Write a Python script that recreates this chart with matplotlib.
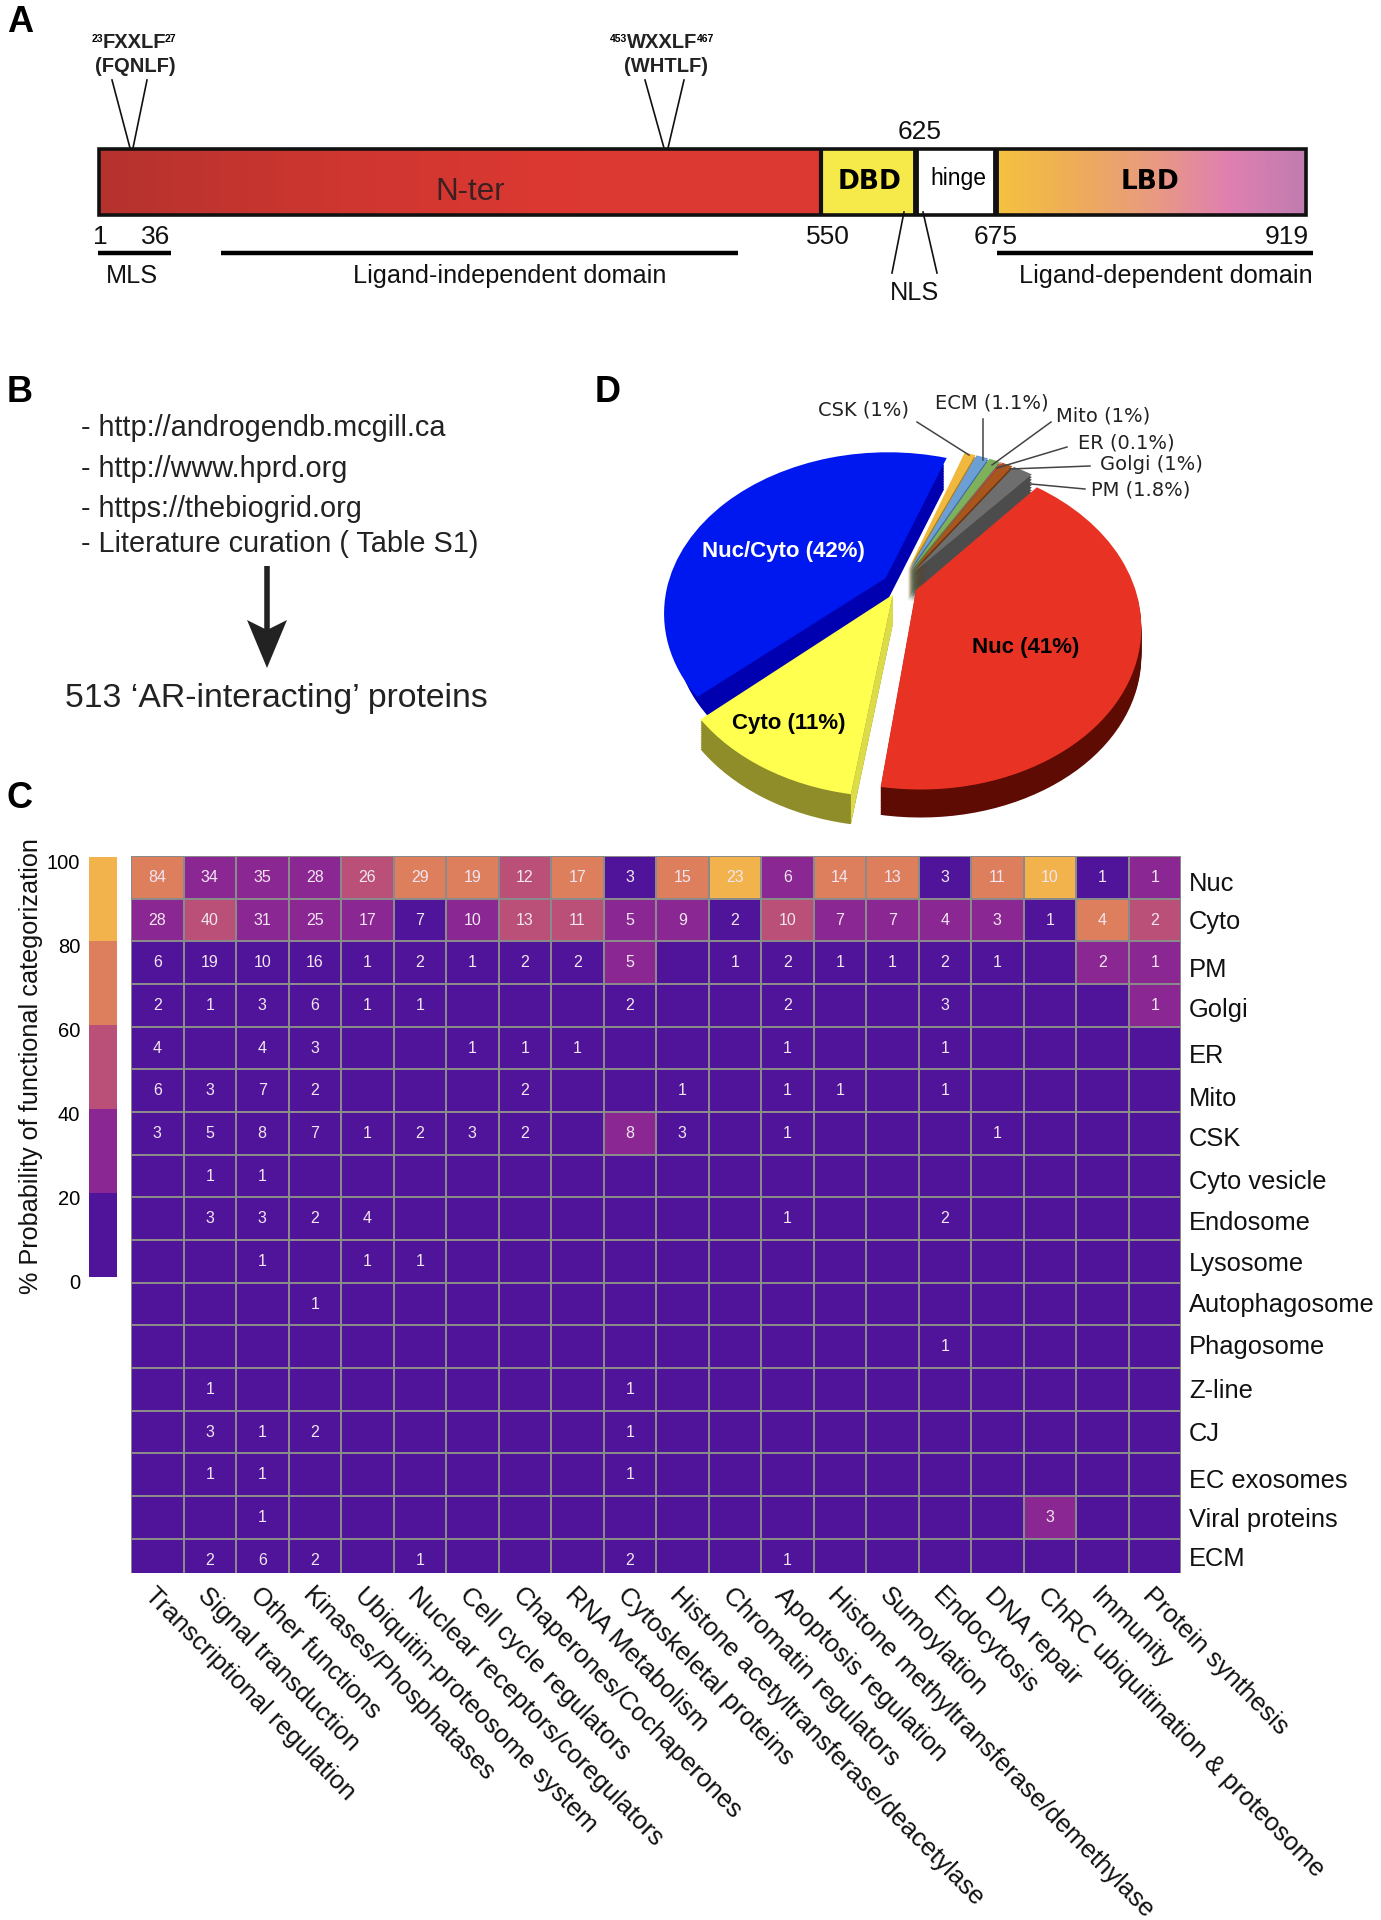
import numpy as np
import matplotlib
matplotlib.use('Agg')
import matplotlib.pyplot as plt
from matplotlib.colors import ListedColormap, LinearSegmentedColormap
from matplotlib.patches import Rectangle, Polygon
from matplotlib.transforms import Transform, Affine2D, ScaledTranslation

plt.rcParams['font.family'] = ['Liberation Sans', 'DejaVu Sans']

W, H = 1381, 1920

# heatmap data, 0 = empty cell
columns = ['Transcriptional regulation', 'Signal transduction', 'Other functions',
           'Kinases/Phosphatases', 'Ubiquitin-proteosome system',
           'Nuclear receptors/coregulators', 'Cell cycle regulators',
           'Chaperones/Cochaperones', 'RNA Metabolism', 'Cytoskeletal proteins',
           'Histone acetyltransferase/deacetylase', 'Chromatin regulators',
           'Apoptosis regulation', 'Histone methyltransferase/demethylase',
           'Sumoylation', 'Endocytosis', 'DNA repair',
           'ChRC ubiquitination & proteosome', 'Immunity', 'Protein synthesis']
rows = ['Nuc', 'Cyto', 'PM', 'Golgi', 'ER', 'Mito', 'CSK', 'Cyto vesicle', 'Endosome',
        'Lysosome', 'Autophagosome', 'Phagosome', 'Z-line', 'CJ', 'EC exosomes',
        'Viral proteins', 'ECM']
counts = [
    [84, 34, 35, 28, 26, 29, 19, 12, 17, 3, 15, 23, 6, 14, 13, 3, 11, 10, 1, 1],
    [28, 40, 31, 25, 17, 7, 10, 13, 11, 5, 9, 2, 10, 7, 7, 4, 3, 1, 4, 2],
    [6, 19, 10, 16, 1, 2, 1, 2, 2, 5, 0, 1, 2, 1, 1, 2, 1, 0, 2, 1],
    [2, 1, 3, 6, 1, 1, 0, 0, 0, 2, 0, 0, 2, 0, 0, 3, 0, 0, 0, 1],
    [4, 0, 4, 3, 0, 0, 1, 1, 1, 0, 0, 0, 1, 0, 0, 1, 0, 0, 0, 0],
    [6, 3, 7, 2, 0, 0, 0, 2, 0, 0, 1, 0, 1, 1, 0, 1, 0, 0, 0, 0],
    [3, 5, 8, 7, 1, 2, 3, 2, 0, 8, 3, 0, 1, 0, 0, 0, 1, 0, 0, 0],
    [0, 1, 1, 0, 0, 0, 0, 0, 0, 0, 0, 0, 0, 0, 0, 0, 0, 0, 0, 0],
    [0, 3, 3, 2, 4, 0, 0, 0, 0, 0, 0, 0, 1, 0, 0, 2, 0, 0, 0, 0],
    [0, 0, 1, 0, 1, 1, 0, 0, 0, 0, 0, 0, 0, 0, 0, 0, 0, 0, 0, 0],
    [0, 0, 0, 1, 0, 0, 0, 0, 0, 0, 0, 0, 0, 0, 0, 0, 0, 0, 0, 0],
    [0, 0, 0, 0, 0, 0, 0, 0, 0, 0, 0, 0, 0, 0, 0, 1, 0, 0, 0, 0],
    [0, 1, 0, 0, 0, 0, 0, 0, 0, 1, 0, 0, 0, 0, 0, 0, 0, 0, 0, 0],
    [0, 3, 1, 2, 0, 0, 0, 0, 0, 1, 0, 0, 0, 0, 0, 0, 0, 0, 0, 0],
    [0, 1, 1, 0, 0, 0, 0, 0, 0, 1, 0, 0, 0, 0, 0, 0, 0, 0, 0, 0],
    [0, 0, 1, 0, 0, 0, 0, 0, 0, 0, 0, 0, 0, 0, 0, 0, 0, 3, 0, 0],
    [0, 2, 6, 2, 0, 1, 0, 0, 0, 2, 0, 0, 1, 0, 0, 0, 0, 0, 0, 0],
]
# colour bin of each cell (0-20, 20-40, ...)
levels_nuc = [3, 1, 1, 1, 2, 3, 3, 2, 3, 0, 3, 4, 1, 3, 3, 0, 3, 4, 0, 1]
levels_cyto = [1, 2, 1, 1, 1, 0, 1, 2, 2, 1, 1, 0, 2, 1, 1, 1, 1, 0, 3, 2]
levels_raised = [(2, 9), (2, 18), (2, 19), (3, 19), (6, 9), (15, 17)]  # (row, col) in bin 1

bin_edges = [0, 20, 40, 60, 80, 100]
bin_colors = ['#50149a', '#8b2792', '#ba4f78', '#dd7e5c', '#f3b34c']

# pie data
pie_names = ['Nuc', 'PM', 'Golgi', 'ER', 'Mito', 'ECM', 'CSK', 'Nuc/Cyto', 'Cyto']
pie_values = [41, 1.8, 1, 0.1, 1, 1.1, 1, 42, 11]
pie_top = ['#e83324', '#6e6e6e', '#a8561e', '#e0406a', '#7fb05c', '#6c9fd6', '#f0b83c',
           '#0018f0', '#ffff50']
pie_side = ['#5e0b03', '#4c4c4c', '#6a3410', '#90203c', '#4f7a36', '#3f6c9e', '#a87c20',
            '#0000b0', '#8f8c2a']
pie_explode = [0.08, 0.10, 0.10, 0.10, 0.10, 0.10, 0.10, 0.08, 0.07]
pie_thick = [28, 42, 30, 30, 30, 30, 30, 26, 30]
pie_rank = [8, 5, 4, 3, 2, 1, 0, 6, 7]

fig = plt.figure(figsize=(W / 100, H / 100), dpi=100)


# perspective of the tilted pie: flat unit circle -> figure pixels
class Tilt(Transform):
    input_dims = 2
    output_dims = 2

    def __init__(self, ox, oy, sx, sy, k):
        super().__init__()
        self.ox, self.oy, self.sx, self.sy, self.k = ox, oy, sx, sy, k

    def transform_non_affine(self, xy):
        xy = np.asarray(xy, dtype=float)
        w = 1 + self.k * xy[:, 1]
        return np.column_stack([self.ox + self.sx * xy[:, 0] / w,
                                self.oy - self.sy * xy[:, 1] / w])


ax_pie = fig.add_axes([0, 0, 1, 1], zorder=1)
tilt = Tilt(900, 585, 218, 155, 0.21)
n_layers = 16
for i in range(n_layers + 1):
    frac = 1 - i / n_layers
    cols = pie_top if i == n_layers else pie_side
    wedges, _ = ax_pie.pie(pie_values, colors=cols, startangle=261.8, explode=pie_explode,
                           radius=1, wedgeprops={'linewidth': 0})
    for j, w in enumerate(wedges):
        w.set_transform(tilt + Affine2D().translate(0, pie_thick[j] * frac) + ax_pie.transData)
        w.set_zorder(pie_rank[j] * 100 + i)
        if j == 7 and i < n_layers:
            w.set_radius(0.95)  # keeps the blue rim only at the lower left

# lighter cut face of the Cyto slice
w = wedges[8]
a = np.deg2rad(w.theta2)
p = tilt.transform(np.array([w.center, (w.center[0] + np.cos(a), w.center[1] + np.sin(a))]))
ax_pie.fill([p[0, 0], p[1, 0], p[1, 0], p[0, 0]],
            [p[0, 1], p[1, 1], p[1, 1] + 30, p[0, 1] + 30], color='#dcdc48', lw=0, zorder=750)

ax_pie.set_aspect('auto')
ax_pie.set_xlim(0, W)
ax_pie.set_ylim(H, 0)
ax_pie.axis('off')

ax_pie.text(783, 552, 'Nuc/Cyto (42%)', color='white', fontsize=16, fontweight='bold',
            ha='center', va='center', zorder=2000)
ax_pie.text(1026, 648, 'Nuc (41%)', color='black', fontsize=16, fontweight='bold',
            ha='center', va='center', zorder=2000)
ax_pie.text(789, 724, 'Cyto (11%)', color='black', fontsize=16, fontweight='bold',
            ha='center', va='center', zorder=2000)

pie_labels = [('CSK (1%)', 864, 410, (917, 422), (969, 455)),
              ('ECM (1.1%)', 992, 403, (983, 419), (983, 460)),
              ('Mito (1%)', 1103, 416, (1051, 422), (992, 465)),
              ('ER (0.1%)', 1126, 443, (1067, 447), (997, 468)),
              ('Golgi (1%)', 1151, 465, (1090, 466), (1010, 469)),
              ('PM (1.8%)', 1141, 490, (1085, 489), (1031, 484))]
for txt, tx, ty, a0, a1 in pie_labels:
    ax_pie.text(tx, ty, txt, family='DejaVu Sans', fontsize=14, color='#222222',
                ha='center', va='center', zorder=2000)
    ax_pie.plot([a0[0], a1[0]], [a0[1], a1[1]], color='#444444', lw=1.1, zorder=2000)

# overlay in pixel coordinates for panels A, B and the letters
ax = fig.add_axes([0, 0, 1, 1], zorder=2)
ax.patch.set_alpha(0)
ax.set_xlim(0, W)
ax.set_ylim(H, 0)
ax.axis('off')

for letter, x, y in [('A', 20, 22), ('B', 20, 393), ('C', 20, 799), ('D', 608, 393)]:
    ax.text(x, y, letter, fontsize=26, fontweight='bold', ha='center', va='center')

bar_top, bar_bot = 149, 215
bar_x = [99, 821, 916, 996.5, 1306.5]
nter = LinearSegmentedColormap.from_list('nter', ['#b5322e', '#cf3630', '#dd3932', '#dc3a33'])
lbd = LinearSegmentedColormap.from_list('lbd', ['#f5c23e', '#eead58', '#e99b80', '#e080b0',
                                               '#c07cb0'])
grad = np.linspace(0, 1, 256).reshape(1, -1)
ax.imshow(grad, cmap=nter, extent=(bar_x[0], bar_x[1], bar_bot, bar_top), aspect='auto', zorder=1)
ax.imshow(grad, cmap=lbd, extent=(bar_x[3], bar_x[4], bar_bot, bar_top), aspect='auto', zorder=1)
ax.add_patch(Rectangle((bar_x[1], bar_top), bar_x[2] - bar_x[1], bar_bot - bar_top,
                       fc='#f5ea4a', ec='none', zorder=1))
ax.set_xlim(0, W)
ax.set_ylim(H, 0)
ax.add_patch(Rectangle((bar_x[0], bar_top), bar_x[4] - bar_x[0], bar_bot - bar_top,
                       fc='none', ec='#111111', lw=2.6, zorder=3))
for xs, lw in [(bar_x[1], 3), (bar_x[2], 4.2), (bar_x[3], 4.2)]:
    ax.plot([xs, xs], [bar_top, bar_bot], color='#111111', lw=lw, zorder=3, solid_capstyle='butt')

ax.text(470, 192, 'N-ter', fontsize=22.5, color='#3a2020', ha='center', va='center', zorder=4)
ax.text(870, 182, 'DBD', family='DejaVu Sans', fontsize=19, fontweight='bold', ha='center', va='center', zorder=4)
ax.text(1150, 182, 'LBD', family='DejaVu Sans', fontsize=19, fontweight='bold', ha='center', va='center', zorder=4)
ax.text(958, 179, 'hinge', fontsize=16.5, ha='center', va='center', zorder=4)

# motifs
motifs = [('FXXLF', '23', '27', '(FQNLF)', 134, [(112, 130), (147, 133)]),
          ('WXXLF', '453', '467', '(WHTLF)', 662, [(645, 664), (684, 668)])]
for name, sup0, sup1, sub, cx, legs in motifs:
    ax.text(cx, 42, name, fontsize=14.5, fontweight='bold', color='#222222', ha='center', va='center')
    half = 31 if name[0] == 'F' else 35
    ax.text(cx - half, 39, sup0, fontsize=7.5, fontweight='bold', ha='right', va='center')
    ax.text(cx + half, 39, sup1, fontsize=7.5, fontweight='bold', ha='left', va='center')
    ax.text(cx + (1 if name[0] == 'F' else 4), 66, sub, fontsize=14.5, fontweight='bold', color='#222222', ha='center', va='center')
    for x0, x1 in legs:
        ax.plot([x0, x1], [80, 148], color='#111111', lw=1.2)

for txt, x, y in [('1', 100, 237), ('36', 156, 237), ('550', 828, 237), ('675', 996, 237),
                  ('919', 1287, 237), ('625', 920, 132)]:
    ax.text(x, y, txt, fontsize=19, ha='center', va='center', color='#111111')

for x0, x1 in [(98, 171), (221, 738), (997, 1313)]:
    ax.plot([x0, x1], [253, 253], color='black', lw=3.2, solid_capstyle='butt')
for txt, x, y in [('MLS', 132, 276), ('Ligand-independent domain', 510, 276),
                  ('Ligand-dependent domain', 1166, 276), ('NLS', 915, 293)]:
    ax.text(x, y, txt, fontsize=18.2, ha='center', va='center', color='#111111')
ax.plot([904, 892], [212, 273], color='#111111', lw=1.2, zorder=5)
ax.plot([923, 937], [212, 273], color='#111111', lw=1.2, zorder=5)

# panel B
b_lines = ['- http://androgendb.mcgill.ca', '- http://www.hprd.org', '- https://thebiogrid.org',
           '- Literature curation ( Table S1)']
for txt, y in zip(b_lines, [428, 469, 509, 544]):
    ax.text(81, y, txt, fontsize=20.8, ha='left', va='center', color='#222222')
ax.plot([267, 267], [566, 630], color='#222222', lw=4, solid_capstyle='butt')
ax.add_patch(Polygon([(247, 620), (267, 668), (287, 620), (267, 630)], fc='#222222', ec='none'))
ax.text(65, 698, '513 \u2018AR-interacting\u2019 proteins', fontsize=24.3, ha='left', va='center', color='#222222')

# panel C heatmap, the last row is cut short in the original
hm_l, hm_r, hm_t, hm_b = 131, 1181, 856, 1573
ax_hm = fig.add_axes([hm_l / W, 1 - hm_b / H, (hm_r - hm_l) / W, (hm_b - hm_t) / H], zorder=3)
count_arr = np.array(counts)
level_arr = np.zeros(count_arr.shape, dtype=int)
level_arr[0] = levels_nuc
level_arr[1] = levels_cyto
for r, c in levels_raised:
    level_arr[r, c] = 1
cmap = ListedColormap(bin_colors)
ax_hm.pcolormesh(level_arr, cmap=cmap, vmin=-0.5, vmax=4.5, edgecolors='#8a8a8a', linewidth=1.3)
ax_hm.set_xlim(0, len(columns))
ax_hm.set_ylim(len(rows) - 0.2, 0)
for r in range(len(rows)):
    for c in range(len(columns)):
        if counts[r][c]:
            ax_hm.text(c + 0.5, r + 0.5, str(counts[r][c]), color='#f2e6f2', fontsize=11.5,
                       ha='center', va='center')
ax_hm.set_yticks([])
ax_hm.set_xticks(np.arange(len(columns)) + 0.5)
ax_hm.set_xticklabels(columns, rotation=-45.3, ha='left', va='top', rotation_mode='anchor', fontsize=18.5,
                      color='#111111')
ax_hm.tick_params(axis='x', length=0, pad=7)
for s in ax_hm.spines.values():
    s.set_visible(False)

row_y = [884, 922, 970, 1010, 1056, 1099, 1139, 1182, 1223, 1264, 1305, 1347, 1391, 1434, 1481,
         1520, 1559]
for name, y in zip(rows, row_y):
    ax.text(1189, y, name, fontsize=18.4, ha='left', va='center', color='#111111')

# colour bar
ax_cb = fig.add_axes([88.5 / W, 1 - 1277 / H, 28.5 / W, 420 / H], zorder=3)
ax_cb.pcolormesh([0, 1], bin_edges, np.arange(5).reshape(-1, 1), cmap=cmap, vmin=-0.5, vmax=4.5)
ax_cb.set_xticks([])
ax_cb.set_yticks(bin_edges)
ax_cb.set_yticklabels(bin_edges, fontsize=14.5)
ax_cb.tick_params(axis='y', length=0, pad=6)
off = ScaledTranslation(0, -4.5 / 100, fig.dpi_scale_trans)
for lab in ax_cb.get_yticklabels():
    lab.set_transform(lab.get_transform() + off)
for s in ax_cb.spines.values():
    s.set_visible(False)

ax.text(31, 1066, '% Probability of functional categorization', rotation=90, fontsize=18.2,
        ha='center', va='center', color='#111111')

fig.savefig('out.png', dpi=100)
